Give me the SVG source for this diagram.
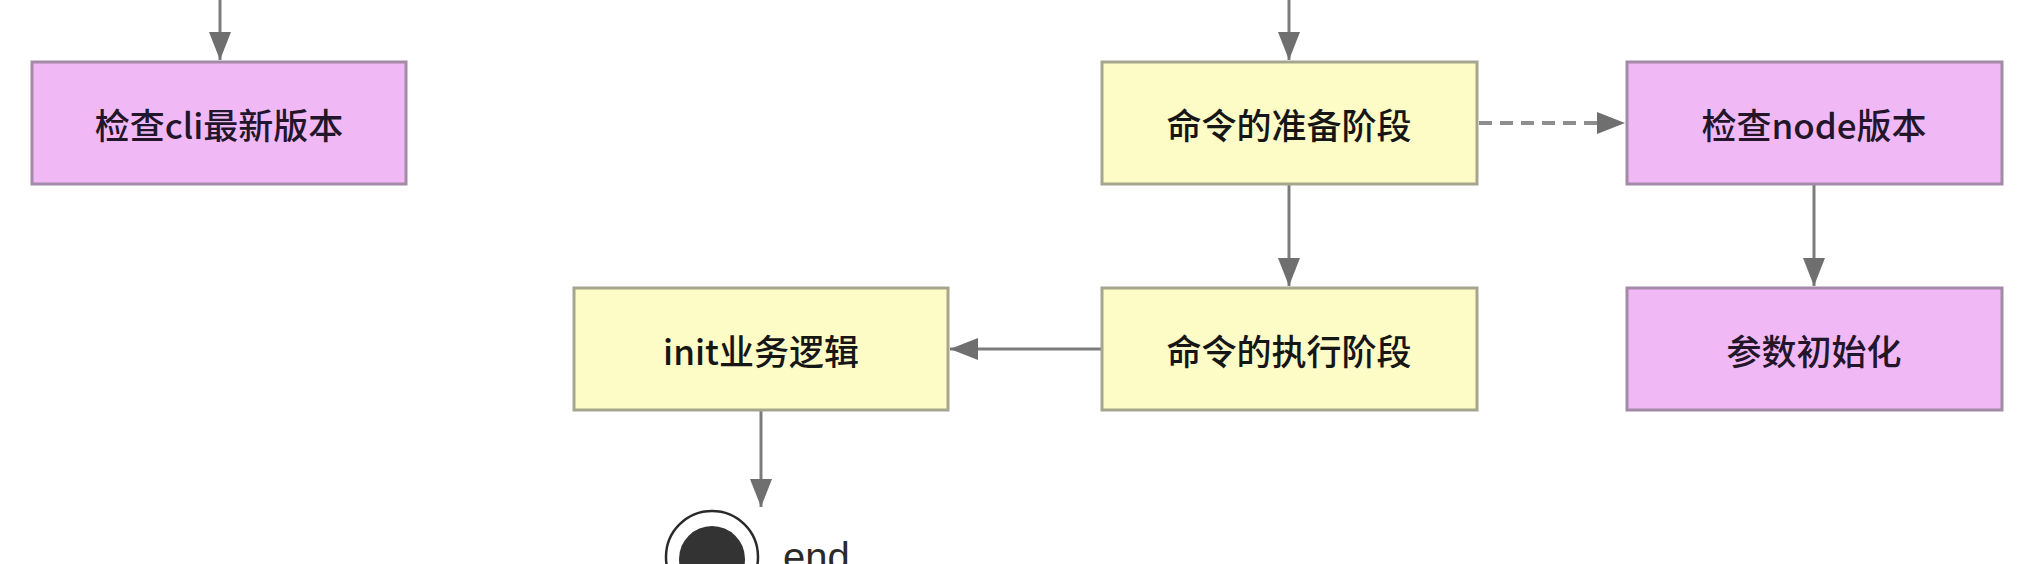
<svg xmlns="http://www.w3.org/2000/svg" width="2022" height="564" viewBox="0 0 2022 564">
  <style>
    .box-y { fill: #fdfbc6; stroke: #a6a68e; stroke-width: 3; }
    .box-p { fill: #f0b9f6; stroke: #a48aa6; stroke-width: 3; }
    .lbl { font-family: "Noto Sans CJK SC", "Liberation Sans", sans-serif; font-size: 35px; font-weight: 500; fill: #161616; text-anchor: middle; dominant-baseline: central; }
    .lbl-p { fill: #24162a; }
    .edge { stroke: #7c7c7c; stroke-width: 3; fill: none; }
    .dash { stroke: #8e8e8e; stroke-width: 4; fill: none; stroke-dasharray: 13 8; }
  </style>
  <defs>
    <marker id="arrow" markerUnits="userSpaceOnUse" markerWidth="28" markerHeight="22" refX="28" refY="11" orient="auto" viewBox="0 0 28 22">
      <path d="M0,0 L28,11 L0,22 Z" fill="#6f6f6f"/>
    </marker>
  </defs>
  <rect width="2022" height="564" fill="#ffffff"/>

  <g id="connectors">
    <line class="edge" x1="220" y1="0" x2="220" y2="60" marker-end="url(#arrow)"/>
    <line class="edge" x1="1289" y1="0" x2="1289" y2="60" marker-end="url(#arrow)"/>
    <line class="edge" x1="1289" y1="185" x2="1289" y2="286" marker-end="url(#arrow)"/>
    <line class="edge" x1="1814" y1="185" x2="1814" y2="286" marker-end="url(#arrow)"/>
    <line class="dash" x1="1479" y1="123" x2="1625" y2="123" marker-end="url(#arrow)"/>
    <line class="edge" x1="1101" y1="349" x2="950" y2="349" marker-end="url(#arrow)"/>
    <line class="edge" x1="761" y1="411" x2="761" y2="507" marker-end="url(#arrow)"/>
  </g>

  <g id="node-check-cli">
    <rect class="box-p" x="32" y="62" width="374" height="122"/>
    <text class="lbl lbl-p" x="219" y="123">检查cli最新版本</text>
  </g>
  <g id="node-prepare">
    <rect class="box-y" x="1102" y="62" width="375" height="122"/>
    <text class="lbl" x="1289" y="123">命令的准备阶段</text>
  </g>
  <g id="node-check-node">
    <rect class="box-p" x="1627" y="62" width="375" height="122"/>
    <text class="lbl lbl-p" x="1814" y="123">检查node版本</text>
  </g>
  <g id="node-execute">
    <rect class="box-y" x="1102" y="288" width="375" height="122"/>
    <text class="lbl" x="1289" y="349">命令的执行阶段</text>
  </g>
  <g id="node-params">
    <rect class="box-p" x="1627" y="288" width="375" height="122"/>
    <text class="lbl lbl-p" x="1814" y="349">参数初始化</text>
  </g>
  <g id="node-init">
    <rect class="box-y" x="574" y="288" width="374" height="122"/>
    <text class="lbl" x="761" y="349">init业务逻辑</text>
  </g>
  <g id="node-end">
    <circle cx="712" cy="557" r="46" fill="#ffffff" stroke="#2a2a2a" stroke-width="2.5"/>
    <circle cx="712" cy="559" r="33" fill="#333333"/>
    <text x="783" y="571" font-family="Liberation Sans, Arial, sans-serif" font-size="40" fill="#2a2a2a">end</text>
  </g>
</svg>
